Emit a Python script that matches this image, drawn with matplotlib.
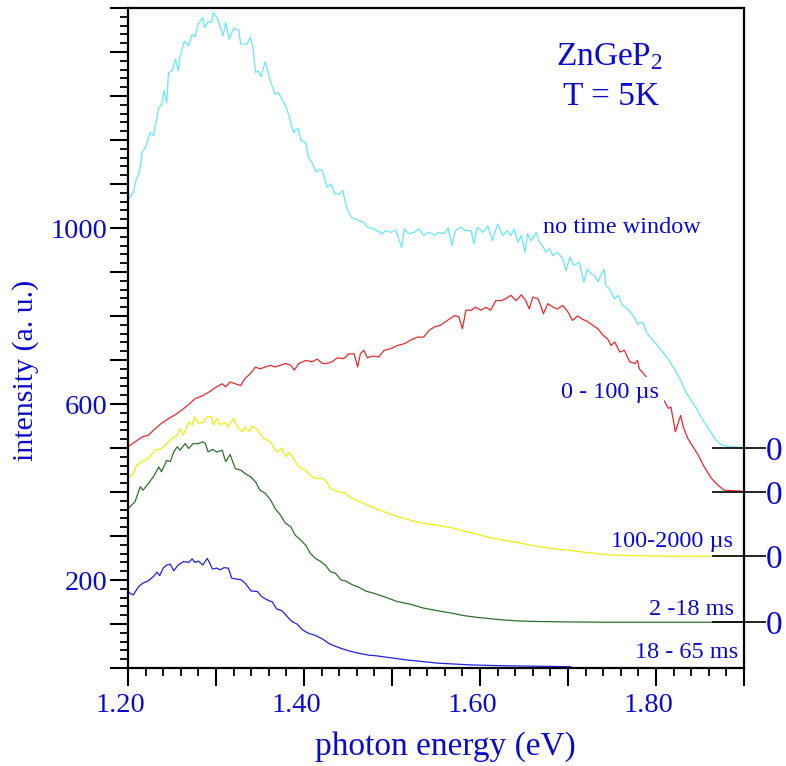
import matplotlib
matplotlib.use("Agg")
import matplotlib.pyplot as plt
from matplotlib.ticker import FixedLocator, MultipleLocator
from matplotlib.transforms import ScaledTranslation
import numpy as np

plt.rcParams['font.family'] = ['Liberation Serif', 'DejaVu Serif']
plt.rcParams['mathtext.fontset'] = 'custom'
plt.rcParams['mathtext.rm'] = 'Liberation Serif'
plt.rcParams['mathtext.it'] = 'Liberation Serif:italic'

# ---------------- data (photon energy in eV, intensity in a.u., offset curves) -------------
cyan_E = [1.201,1.206,1.209,1.213,1.216,1.220,1.225,1.229,1.235,1.238,1.241,1.244,1.246,1.250,1.254,1.257,1.259,1.264,1.269,1.273,
          1.276,1.280,1.285,1.287,1.291,1.295,1.297,1.302,1.308,1.311,1.315,1.320,1.326,1.328,1.335,1.339,1.342,1.345,1.348,1.351,
          1.356,1.362,1.367,1.371,1.375,1.380,1.385,1.388,1.393,1.397,1.402,1.405,1.409,1.414,1.418,1.421,1.426,1.431,1.435,1.440,
          1.444,1.449,1.454,1.462,1.468,1.472,1.479,
          1.483,1.489,1.493,1.499,1.504,1.511,1.514,1.519,1.525,1.531,1.536,1.542,1.548,1.553,1.559,1.564,1.568,1.572,1.578,1.584,
          1.590,1.593,1.597,1.603,1.609,1.614,1.620,1.626,1.631,1.635,1.639,1.643,1.647,1.651,1.654,1.658,1.664,1.667,1.671,1.675,
          1.679,1.683,1.688,1.694,1.698,1.702,1.707,1.713,1.718,1.722,1.726,1.730,1.734,1.738,1.741,1.743,1.747,1.753,1.757,1.762,
          1.768,1.775,1.779,1.785,1.789,1.795,1.800,1.806,1.812,1.817,1.823,1.829,1.834,1.840,1.846,1.851,1.857,1.863,1.868,1.874,
          1.882,1.900]
cyan_I = [1066,1081,1108,1127,1172,1183,1217,1210,1274,1278,1312,1285,1353,1357,1384,1357,1387,1425,1414,1440,
          1434,1465,1478,1456,1469,1467,1490,1474,1437,1467,1429,1454,1449,1418,1418,1433,1410,1353,1357,1344,
          1378,1333,1304,1308,1293,1274,1240,1217,1227,1198,1195,1161,1149,1127,1134,1130,1093,1100,1077,1077,
          1085,1043,1024,1017,1013,1002,998,
          994,987,994,990,996,956,998,987,990,998,983,990,984,990,987,1000,960,994,1002,994,
          994,964,1002,990,1005,971,1009,983,994,983,998,968,983,945,987,971,990,971,960,945,
          953,937,945,930,903,934,915,922,877,907,896,892,877,896,906,869,862,839,847,824,
          816,798,782,786,764,748,737,722,707,692,673,650,627,608,590,571,552,533,518,508,
          503,501]

red_E = [1.200,1.208,1.216,1.223,1.231,1.238,1.246,1.254,1.261,1.269,1.276,1.284,1.292,1.299,1.307,1.311,1.316,1.322,1.328,1.333,
         1.339,1.345,1.350,1.356,1.362,1.367,1.373,1.379,1.385,1.389,1.394,1.402,1.409,1.415,1.421,1.426,1.432,1.438,1.445,1.451,
         1.457,1.461,1.464,1.468,1.472,
         1.478,1.485,1.491,1.499,1.506,1.514,1.521,1.529,1.536,1.542,1.548,1.555,1.563,1.571,1.576,1.580,1.584,1.590,1.595,1.601,
         1.607,1.612,1.618,1.624,1.629,1.635,1.641,1.647,1.652,1.656,1.660,1.666,1.669,1.672,1.677,1.683,1.688,1.694,1.700,1.705,
         1.711,1.717,1.722,1.728,1.734,1.740,1.745,1.749,1.753,1.759,1.764,1.770,1.776,1.779,1.781,1.786,
         1.810,1.814,1.817,1.822,1.828,1.831,1.836,1.842,1.848,1.854,1.863,1.871,1.878,1.897]
red_I = [503,514,525,529,544,556,567,576,586,599,612,618,627,637,646,639,650,646,642,658,
         669,684,680,684,688,684,688,692,688,677,692,699,696,702,692,692,696,705,703,714,
         714,684,714,722,705,
         709,707,722,726,733,737,745,752,752,767,775,779,790,801,798,771,813,813,820,813,
         820,813,835,835,839,847,835,848,835,816,843,839,824,805,828,820,816,824,809,790,
         800,792,788,779,771,756,748,733,741,718,722,696,692,699,680,669,
         605,590,593,537,574,548,522,503,484,460,431,414,404,402]

yellow_E = [1.200,1.206,1.210,1.216,1.223,1.231,1.238,1.244,1.250,1.256,1.259,1.263,1.269,1.273,1.276,1.280,1.286,1.290,1.295,1.297,
            1.301,1.305,1.311,1.314,1.320,1.324,1.330,1.333,1.338,1.341,1.348,1.354,1.362,1.369,1.375,1.379,1.383,1.388,1.394,1.402,
            1.407,1.413,1.421,1.426,1.430,1.438,1.445,1.453,1.462,1.470,1.479,
            1.491,1.506,1.521,1.536,1.552,1.567,1.582,1.597,1.612,1.628,1.643,1.658,1.673,1.688,1.703,1.719,1.734,1.749,1.764,1.779,
            1.817,1.855,1.897]
yellow_I = [431,442,461,469,476,495,499,510,522,529,544,529,559,552,571,556,559,571,571,552,
            567,553,558,548,568,548,537,548,537,550,540,522,514,491,499,480,491,476,457,450,
            438,431,431,423,408,401,399,387,379,372,364,
            355,344,336,329,324,319,311,304,296,290,285,279,274,270,267,263,260,257,256,255,
            254,254,254]

green_E = [1.201,1.208,1.214,1.217,1.223,1.229,1.235,1.238,1.244,1.248,1.252,1.256,1.259,1.265,1.269,1.274,1.280,1.285,1.288,1.291,
           1.296,1.301,1.307,1.311,1.316,1.322,1.328,1.333,1.339,1.345,1.350,1.356,1.362,1.367,1.373,1.379,1.385,1.390,1.396,1.402,
           1.407,1.413,1.419,1.424,1.430,1.436,1.442,1.447,1.455,1.462,1.470,1.479,
           1.491,1.506,1.521,1.536,1.552,1.567,1.582,1.597,1.612,1.628,1.643,1.658,1.688,1.741,1.897]
green_I = [364,378,412,404,419,435,457,446,472,469,491,503,495,510,499,510,510,514,510,491,
           497,491,495,469,485,453,450,442,435,423,404,397,382,363,348,329,321,302,291,279,
           261,249,242,234,219,215,200,198,189,184,175,170,
           162,151,145,136,130,125,119,115,112,109,107,106,105,104,104]

blue_E = [1.201,1.206,1.212,1.217,1.223,1.229,1.233,1.236,1.240,1.244,1.248,1.252,1.257,1.263,1.269,1.273,1.276,1.280,1.285,1.290,
          1.292,1.296,1.301,1.305,1.309,1.314,1.318,1.324,1.329,1.333,1.340,1.347,1.352,1.358,1.364,1.369,1.375,1.381,1.386,1.392,
          1.398,1.405,1.413,1.421,1.428,1.436,1.443,1.451,1.459,1.466,1.474,1.481,
          1.514,1.552,1.590,1.628,1.703]
blue_I = [172,166,185,193,198,208,218,210,227,234,236,221,234,242,240,248,240,243,234,249,
          242,225,227,223,228,227,204,202,200,193,175,174,162,155,150,134,130,117,106,100,
          87,79,74,66,56,49,44,39,35,32,29,28,
          19,11,7,5,3]

series_labels = ["no time window", "0 - 100 µs", "100-2000 µs", "2 -18 ms", "18 - 65 ms"]
zero_levels = [500, 400, 254, 104]          # baselines of the offset curves
x_tick_labels = ["1.20", "1.40", "1.60", "1.80"]
y_tick_labels = ["200", "600", "1000"]

TXT = '#0A0ACF'
colors = ['#66E6FA', '#E8282C', '#F2EC10', '#2E6E2E', '#2020E0']

# ---------------- figure ----------------
fig = plt.figure(figsize=(7.86, 7.66), dpi=100)
ax = fig.add_axes([128/786, 98/766, 616/786, 660/766])

curves = [(cyan_E, cyan_I), (red_E, red_I), (yellow_E, yellow_I), (green_E, green_I), (blue_E, blue_I)]
for (e, i), c in zip(curves, colors):
    ax.plot(e, i, color=c, lw=0.9, zorder=2)

ax.set_xlim(1.2, 1.9)
ax.set_ylim(0, 1500)

# x ticks
xt = np.round(np.arange(1.2, 1.9001, 0.1), 2)
ax.set_xticks(xt)
ax.set_xticklabels([x_tick_labels[k // 2] if k % 2 == 0 and k // 2 < len(x_tick_labels) else "" for k in range(len(xt))])
ax.xaxis.set_minor_locator(MultipleLocator(0.02))
# y ticks
yt = np.arange(0, 1501, 100)
ax.set_yticks(yt)
ax.set_yticklabels([y_tick_labels[(v - 200) // 400] if v >= 200 and (v - 200) % 400 == 0 and (v - 200) // 400 < len(y_tick_labels) else "" for v in yt])
ax.yaxis.set_minor_locator(MultipleLocator(20))

ax.tick_params(which='major', direction='out', length=13, width=1.5, labelcolor=TXT)
ax.tick_params(axis='y', which='major', labelsize=20.5, pad=2)
ax.tick_params(axis='x', which='major', labelsize=20.5, pad=5)
ax.tick_params(which='minor', direction='out', length=6, width=1.3)
for s in ax.spines.values():
    s.set_linewidth(1.6)
shift = ScaledTranslation(-8/100, 0, fig.dpi_scale_trans)
for lbl in ax.get_xticklabels():
    lbl.set_transform(lbl.get_transform() + shift)

# zero markers on the right
ax2 = ax.twinx()
ax2.set_ylim(0, 1500)
ax2.set_yticks(zero_levels)
ax2.set_yticklabels(['0'] * len(zero_levels))
ax2.yaxis.set_minor_locator(FixedLocator(zero_levels))
ax2.yaxis.remove_overlapping_locs = False
ax2.tick_params(axis='y', which='major', direction='out', length=16, width=1.2, labelsize=24, labelcolor=TXT, pad=0)
ax2.tick_params(axis='y', which='minor', direction='in', length=23, width=1.2)
for s in ax2.spines.values():
    s.set_visible(False)

# series labels
lab_kw = dict(transform=ax.transAxes, fontsize=17.5, color=TXT, zorder=5)
ax.text(0.802, 0.668, series_labels[0], ha='center', va='center', **lab_kw)
ax.text(0.782, 0.417, series_labels[1], ha='center', va='center',
        bbox=dict(facecolor='white', edgecolor='none', pad=4), **lab_kw)
ax.text(0.982, 0.191, series_labels[2], ha='right', va='center', **lab_kw)
ax.text(0.984, 0.088, series_labels[3], ha='right', va='center', **lab_kw)
ax.text(0.990, 0.023, series_labels[4], ha='right', va='center', **lab_kw)

ax.text(0.782, 0.926, r'ZnGeP$_2$', transform=ax.transAxes, ha='center', va='center', fontsize=24, color=TXT)
ax.text(0.784, 0.865, 'T = 5K', transform=ax.transAxes, ha='center', va='center', fontsize=24, color=TXT)

fig.text(445/786, 1 - 747/766, 'photon energy (eV)', ha='center', va='center', fontsize=24, color=TXT)
fig.text(26/786, 1 - 370/766, 'intensity (a. u.)', ha='center', va='center', rotation=90, fontsize=21.5, color=TXT)

fig.savefig('out.png', dpi=100)
